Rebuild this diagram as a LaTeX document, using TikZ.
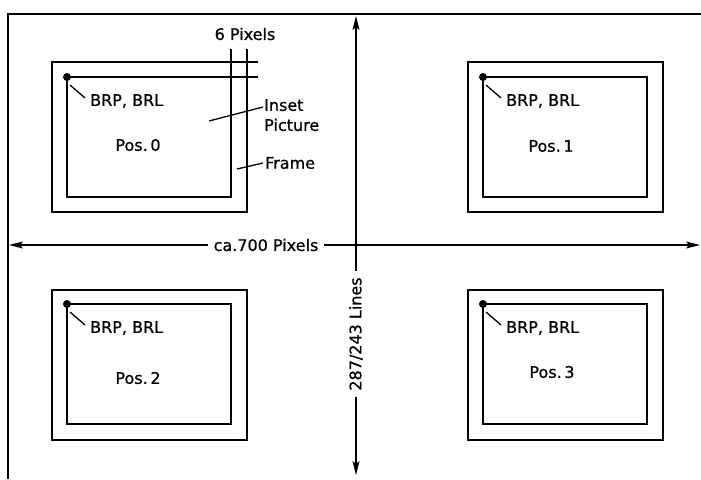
\documentclass[tikz,border=0pt]{standalone}
\usepackage{fontspec}
\setmainfont[FakeBold=0.7]{DejaVu Sans}
\usetikzlibrary{arrows.meta}
\begin{document}
\begin{tikzpicture}[x=1pt,y=-1pt,
  lbl/.style={inner sep=0pt,font=\fontsize{16}{20}\selectfont},
  border/.style={line width=2pt},
  outerbox/.style={draw,line width=2pt,minimum width=195pt,minimum height=150pt,inner sep=0pt,outer sep=0pt},
  innerbox/.style={draw,line width=2pt,minimum width=164pt,minimum height=120pt,inner sep=0pt,outer sep=0pt},
  thin/.style={line width=1.3pt},
  dim/.style={line width=1.3pt},
  tip/.style={-{Stealth[length=14pt,width=7pt,inset=3pt]}},
  dot/.style={circle,fill,inner sep=0pt,minimum size=8pt}]
\useasboundingbox (0,0) rectangle (701,479);
% outer border
\coordinate (tl) at (8,14);
\coordinate (tr) at (701,14);
\coordinate (bl) at (8,479);
\draw[border] (tr) -- (tl) -- (bl);
% frames
\node[outerbox] (o0) at (149.5,137) {};
\node[innerbox] (i0) at (149,137) {};
\node[outerbox] (o1) at (565.5,137) {};
\node[innerbox] (i1) at (565,137) {};
\node[outerbox] (o2) at (149.5,365) {};
\node[innerbox] (i2) at (149,364) {};
\node[outerbox] (o3) at (565.5,365) {};
\node[innerbox] (i3) at (565,364) {};
% BRP marks and labels
\foreach \k in {0,1,2,3}{
  \node[dot] (d\k) at (i\k.north west) {};
  \coordinate (la\k) at ([shift={(3,8)}]i\k.north west);
  \coordinate (lb\k) at ([shift={(18,21)}]i\k.north west);
  \draw[thin] (la\k) -- (lb\k);
  \node[lbl,anchor=west] (brp\k) at ([shift={(23,24)}]i\k.north west) {BRP, BRL};
}
\node[lbl] (p0) at (138,145) {Pos.\,0};
\node[lbl] (p1) at (551,146) {Pos.\,1};
\node[lbl] (p2) at (138,378) {Pos.\,2};
\node[lbl] (p3) at (552,372) {Pos.\,3};
% 6 pixels extension lines
\coordinate (e1) at (258,62);
\coordinate (e2) at (258,77);
\coordinate (v1) at (231,49);
\coordinate (v2) at (247,49);
\draw[thin] (o0.north east) -- (e1);
\draw[thin] (i0.north east) -- (e2);
\draw[thin] (i0.north east) -- (v1);
\draw[thin] (o0.north east) -- (v2);
\node[lbl] (six) at (245,34) {6 Pixels};
% inset picture / frame labels
\node[lbl,anchor=north west,align=left] (inset) at (264,99) {Inset\\Picture};
\coordinate (ia) at (209,121);
\coordinate (ib) at (263,107);
\draw[thin] (ia) -- (ib);
\node[lbl,anchor=west] (frame) at (265,163) {Frame};
\coordinate (fa) at (237,169);
\coordinate (fb) at (263,163);
\draw[thin] (fa) -- (fb);
% horizontal dimension
\node[lbl,inner xsep=5pt] (ca) at (266,245) {ca.700 Pixels};
\coordinate (hl) at (9,245);
\coordinate (hr) at (700,245);
\draw[dim,tip] (ca.west) -- (hl);
\draw[dim,tip] (ca.east) -- (hr);
% vertical dimension
\node[lbl,rotate=90,inner xsep=6pt] (lines) at (356,334) {287/243 Lines};
\coordinate (vt) at (356,16);
\coordinate (vb) at (356,475);
\draw[dim,tip] (lines.east) -- (vt);
\draw[dim,tip] (lines.west) -- (vb);
\end{tikzpicture}
\end{document}
